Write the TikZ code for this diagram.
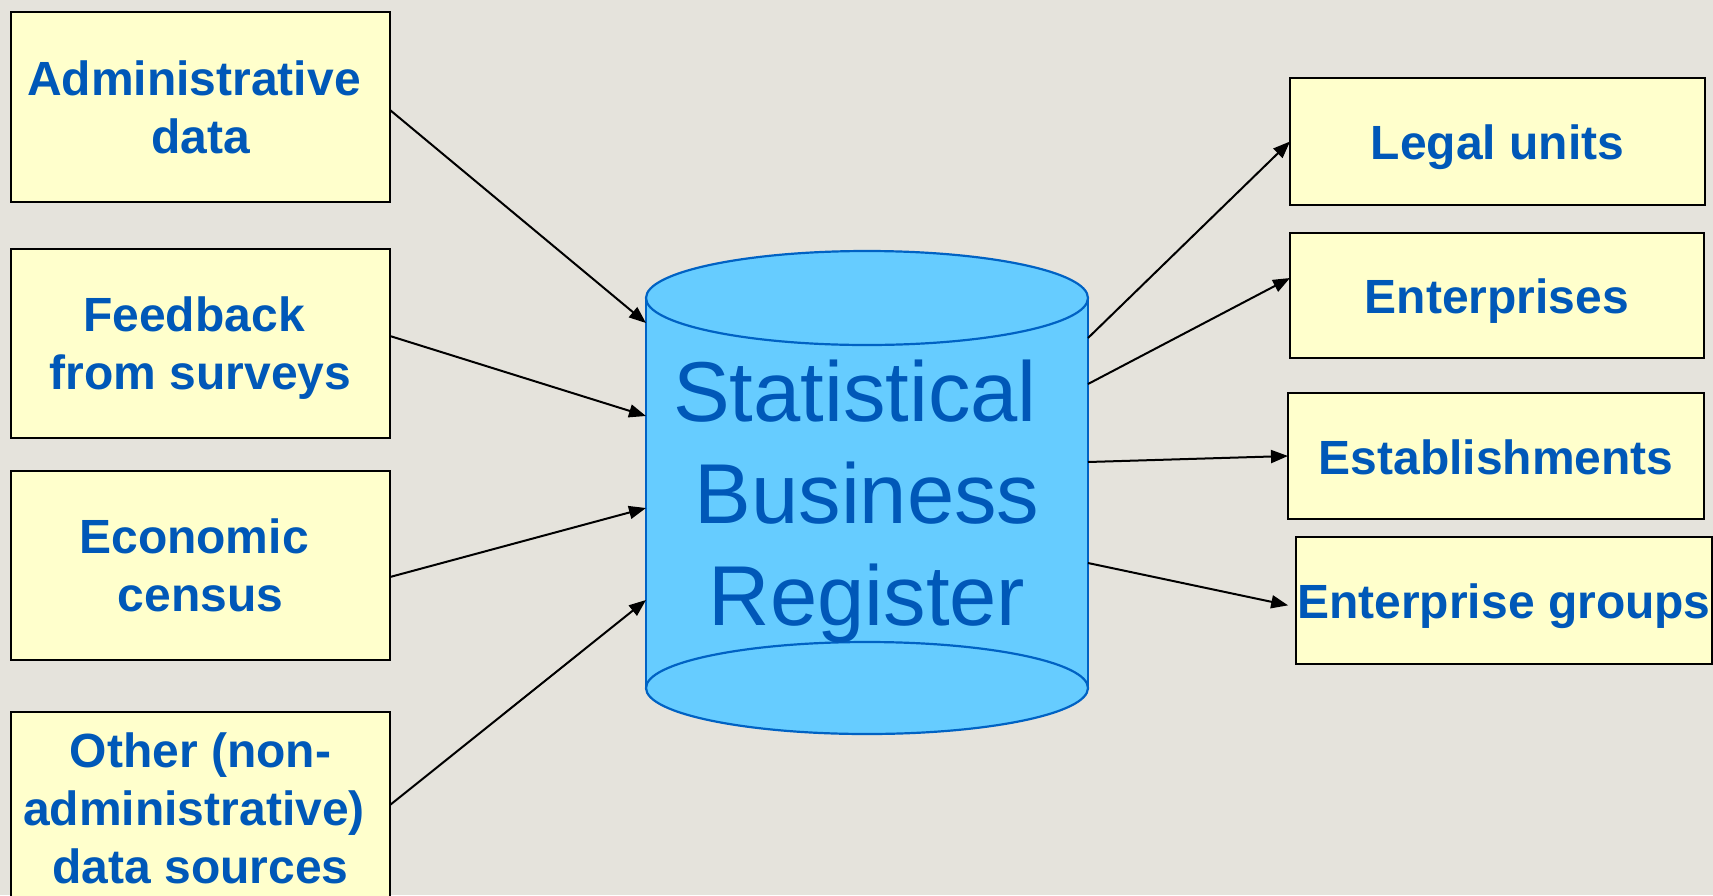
\documentclass[tikz,border=0pt]{standalone}
\usepackage{fontspec}
\setmainfont{Liberation Sans}
\usetikzlibrary{arrows.meta}
\definecolor{bgcol}{HTML}{E5E3DC}
\definecolor{boxfill}{HTML}{FFFFCC}
\definecolor{txtblue}{HTML}{0058B8}
\definecolor{cylfill}{HTML}{66CCFF}
\definecolor{cylline}{HTML}{0062C4}
\tikzset{
  infobox/.style={draw=black, line width=2pt, fill=boxfill, text=txtblue,
    font=\fontsize{48}{58}\selectfont\bfseries, align=center,
    inner sep=0pt, outer sep=0pt},
  unitbox/.style={infobox, text height=36pt, text depth=0pt},
  conn/.style={line width=2pt, -{Triangle[length=17pt,width=13pt]}},
  cylpart/.style={draw=cylline, line width=2.2pt, fill=cylfill}
}
\begin{document}
\begin{tikzpicture}[x=1pt,y=-1pt]
\useasboundingbox (0,0) rectangle (1713,895);
\fill[bgcol] (0,0) rectangle (1713,895);

% register drawn as a can: body and two full ellipses
\fill[cylfill] (646,298) rectangle (1088,688);
\draw[cylline, line width=2.2pt] (646,298) -- (646,690) (1088,298) -- (1088,690);
\draw[cylpart] (867,688) ellipse [x radius=221, y radius=46];
\draw[cylpart] (867,298) ellipse [x radius=221, y radius=47];
\node[font=\fontsize{85}{102}\selectfont, text=txtblue, align=center,
      minimum width=442pt, minimum height=390pt, inner sep=0pt, outer sep=0pt]
  (sbr) at (867,502) {Statistical\kern24pt\\Business\\Register};

% sources
\node[infobox, minimum width=379pt, minimum height=190pt] (adm) at (200.5,107)
  {Administrative\kern13pt\\data};
\node[infobox, minimum width=379pt, minimum height=189pt] (fb) at (200.5,343.5)
  {Feedback\kern13pt\\\smash{from surveys}};
\node[infobox, minimum width=379pt, minimum height=189pt] (eco) at (200.5,565.5)
  {Economic\kern13pt\\census};
\node[infobox, minimum width=379pt, minimum height=192pt] (oth) at (200.5,808)
  {Other (non-\\administrative)\kern13pt\\data sources};

% units
\node[unitbox, minimum width=415pt, minimum height=127pt] (leg) at (1497.5,141.5) {Legal units};
\node[unitbox, minimum width=414pt, minimum height=125pt] (ent) at (1497,295.5) {Enterprises};
\node[unitbox, minimum width=416pt, minimum height=126pt] (est) at (1496,456) {Establishments};
\node[unitbox, minimum width=416pt, minimum height=127pt] (grp) at (1504,600.5) {Enterprise groups};

% inputs
\draw[conn] ([yshift=-3pt]adm.east) -- ([yshift=179pt]sbr.west);
\draw[conn] ([yshift=7.5pt]fb.east) -- ([yshift=86pt]sbr.west);
\draw[conn] ([yshift=-11.5pt]eco.east) -- ([yshift=-6pt]sbr.west);
\draw[conn] ([yshift=3pt]oth.east) -- ([yshift=-98pt]sbr.west);

% outputs
\draw[conn] ([yshift=164pt]sbr.east) -- (leg.west);
\draw[conn] ([yshift=118pt]sbr.east) -- ([yshift=17.5pt]ent.west);
\draw[conn] ([yshift=40pt]sbr.east) -- (est.west);
\draw[conn, shorten >=8pt] ([yshift=-61pt]sbr.east) -- ([yshift=-6.5pt]grp.west);
\end{tikzpicture}
\end{document}
